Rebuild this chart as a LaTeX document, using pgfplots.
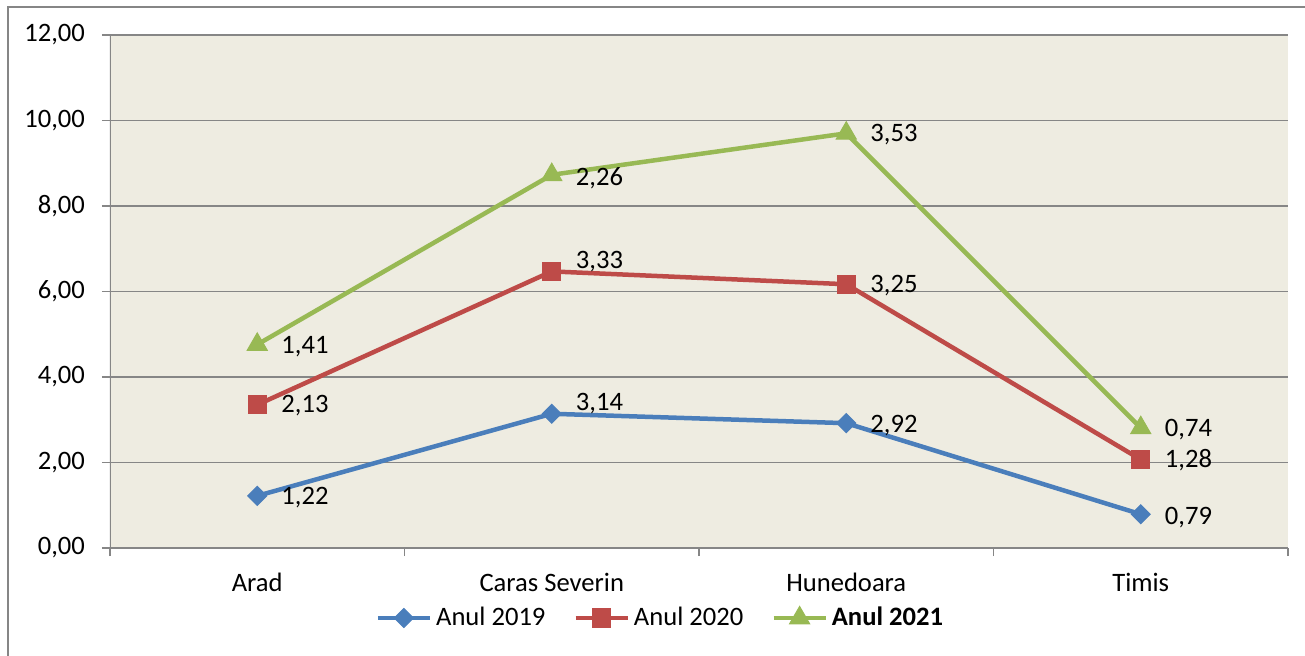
\documentclass[border=0pt]{standalone}
\usepackage{pgfplots}
\pgfplotsset{compat=1.18}
\usepackage{pgfplotstable}
\usepackage{fontspec}
\setmainfont{Carlito}
\definecolor{bgtan}{HTML}{EEECE1}
\definecolor{gridgray}{HTML}{868686}
\definecolor{c19}{HTML}{4A7EBB}
\definecolor{c20}{HTML}{BE4B48}
\definecolor{c21}{HTML}{98B954}

\pgfplotstableread{
x y lab dy
0 1.22 1,22 -1
1 3.14 3,14 5
2 2.92 2,92 -1
3 0.79 0,79 -1.5
}\tA
\pgfplotstableread{
x y lab dy
0 2.13 2,13 -0.5
1 3.33 3,33 5
2 3.25 3,25 -0.5
3 1.28 1,28 -0.5
}\tB
\pgfplotstableread{
x y lab dy
0 1.41 1,41 -1
1 2.26 2,26 -1.5
2 3.53 3,53 -0.5
3 0.74 0,74 -1
}\tC

\begin{document}
\begin{tikzpicture}
\draw[gridgray, line width=1pt] (-51pt,-70pt) rectangle (620pt,270.5pt);
\begin{axis}[
  scale only axis,
  width=589pt, height=256.5pt,
  xmin=-0.5, xmax=3.5, ymin=0, ymax=12,
  stack plots=y,
  axis lines*=left,
  axis line style={draw=none},
  axis background/.style={fill=bgtan, draw=none},
  ytick={0,2,...,12},
  ymajorgrids, xmajorgrids=false,
  grid style={gridgray, line width=0.75pt},
  xtick={0,1,2,3},
  xticklabels={Arad,Caras Severin,Hunedoara,Timis},
  x tick style={draw=none},
  extra x ticks={-0.5,0.5,1.5,2.5,3.5},
  extra x tick labels={},
  extra x tick style={x tick style={draw=gridgray, line width=0.75pt}, grid=none},
  tick align=outside,
  major tick length=4pt,
  y tick style={gridgray, line width=0.75pt},
  tick label style={font=\fontsize{13.3}{15}\selectfont, text=black},
  yticklabel shift=5pt,
  xticklabel shift=5pt,
  /pgf/number format/.cd, use comma, fixed, fixed zerofill, precision=2, assume math mode=true,
  /pgfplots/.cd,
  every axis plot/.append style={line width=2.25pt},
  nodes near coords,
  point meta=explicit symbolic,
  visualization depends on={\thisrow{dy} \as \dy},
  every node near coord/.append style={anchor=west, xshift=8.5pt, yshift=\dy pt, text=black, font=\fontsize{13.3}{15}\selectfont},
  legend style={draw=none, fill=none, at={(0.468,-0.1365)}, anchor=center,
    font=\fontsize{13.3}{15}\selectfont, legend columns=3,
    /tikz/every even column/.append style={column sep=12pt}},
  legend image code/.code={\draw[mark repeat=2,mark phase=2,#1] plot coordinates {(0pt,0pt) (13pt,0pt) (26pt,0pt)};},
]
\draw[gridgray, line width=0.75pt] (rel axis cs:0,0) -- (rel axis cs:0,1);
\addplot[c19, mark=square*, mark size=3.36pt, mark options={rotate=45, line width=0.5pt}] table[x=x, y=y, meta=lab] {\tA};
\addlegendentry{Anul 2019}
\addplot[c20, mark=square*, mark size=4.6pt, mark options={line width=0.5pt}] table[x=x, y=y, meta=lab] {\tB};
\addlegendentry{Anul 2020}
\addplot[c21, mark=triangle*, mark size=5.8pt, mark options={line width=0.5pt}] table[x=x, y=y, meta=lab] {\tC};
\addlegendentry{\textbf{Anul 2021}}
\end{axis}
\pgfresetboundingbox
\useasboundingbox (-55pt,-53.5pt) rectangle (597.5pt,274pt);
\end{tikzpicture}
\end{document}
